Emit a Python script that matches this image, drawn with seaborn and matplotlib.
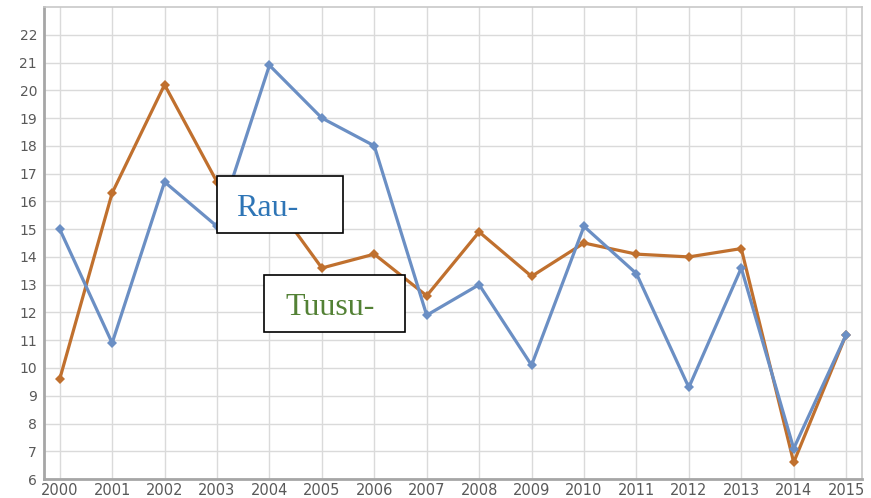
import pandas as pd
import matplotlib.pyplot as plt
import matplotlib.patches as mpatches
import seaborn as sns

years = list(range(2000, 2016))
rau = [15.0, 10.9, 16.7, 15.1, 20.9, 19.0, 18.0, 11.9, 13.0, 10.1, 15.1, 13.4, 9.3, 13.6, 7.1, 11.2]
tuusu = [9.6, 16.3, 20.2, 16.7, 16.2, 13.6, 14.1, 12.6, 14.9, 13.3, 14.5, 14.1, 14.0, 14.3, 6.6, 11.2]

df = pd.DataFrame({
    "year": years * 2,
    "value": tuusu + rau,
    "series": ["Tuusu"] * len(years) + ["Rau"] * len(years),
})

sns.set_style("whitegrid")
fig = plt.figure(figsize=(8.71, 4.98), dpi=100)
ax = fig.add_axes([0.0505, 0.038, 0.939, 0.948])

palette = {"Tuusu": "#c0702e", "Rau": "#6b8fc4"}
sns.lineplot(data=df, x="year", y="value", hue="series", hue_order=["Tuusu", "Rau"],
             palette=palette, marker="D", markersize=5, markeredgewidth=0,
             linewidth=2.3, legend=False, ax=ax)

ax.set_xlim(1999.7, 2015.3)
ax.set_ylim(6, 23)
ax.set_xticks(years)
ax.set_yticks(range(6, 23))
ax.set_xlabel("")
ax.set_ylabel("")
ax.tick_params(axis="x", labelsize=10.5, labelcolor="#595959", length=0, pad=3)
ax.tick_params(axis="y", labelsize=10, labelcolor="#595959", length=0, pad=5)
ax.grid(True, color="#dadada", linewidth=1)
for side in ["left", "bottom"]:
    ax.spines[side].set_color("#a6a6a6")
    ax.spines[side].set_linewidth(2)
for side in ["top", "right"]:
    ax.spines[side].set_color("#c8c8c8")
    ax.spines[side].set_linewidth(1.2)

W, H = 871, 498


def label_box(x0, y0, x1, y1, text, tx, ty, color):
    rect = mpatches.Rectangle((x0 / W, 1 - y1 / H), (x1 - x0) / W, (y1 - y0) / H,
                              transform=fig.transFigure, facecolor="white",
                              edgecolor="black", linewidth=1.2, zorder=5)
    fig.patches.append(rect)
    fig.text(tx / W, 1 - ty / H, text, color=color, fontsize=23,
             family="Liberation Serif", ha="left", va="baseline", zorder=6)


label_box(217, 176, 343, 233, "Rau-", 236, 216, "#2e75b6")
label_box(264, 275, 405, 332, "Tuusu-", 285, 315, "#538135")

fig.savefig("out.png", dpi=100)
